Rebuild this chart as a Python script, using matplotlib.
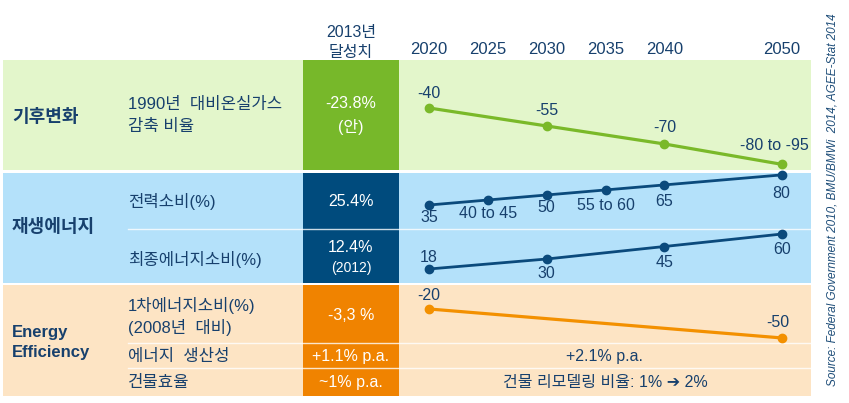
import matplotlib.pyplot as plt
from matplotlib.patches import Rectangle
from matplotlib.transforms import blended_transform_factory

W, H = 849, 403

# chart data
header_years = [2020, 2025, 2030, 2035, 2040, 2050]

ghg_years = [2020, 2030, 2040, 2050]
ghg_vals = [-40, -55, -70, -87]
ghg_labels = ['-40', '-55', '-70', '-80 to -95']

elec_years = [2020, 2025, 2030, 2035, 2040, 2050]
elec_vals = [35, 42.5, 50, 57.5, 65, 80]
elec_labels = ['35', '40 to 45', '50', '55 to 60', '65', '80']

final_years = [2020, 2030, 2040, 2050]
final_vals = [18, 30, 45, 60]
final_labels = ['18', '30', '45', '60']

prim_years = [2020, 2050]
prim_vals = [-20, -50]
prim_labels = ['-20', '-50']

navy = '#17406D'
fams = ['Liberation Sans', 'Noto Sans CJK KR', 'DejaVu Sans']
plt.rcParams['font.family'] = fams

fig = plt.figure(figsize=(W / 100, H / 100), dpi=100)
bg = fig.add_axes([0, 0, 1, 1])
bg.set_xlim(0, W)
bg.set_ylim(H, 0)
bg.axis('off')

# bands and cells
bands = [(60, 170, '#E3F6CB', '#77B82A'),
         (173, 283, '#B4E1FA', '#004B7D'),
         (285, 396, '#FDE4C4', '#F08300')]
for y0, y1, light, dark in bands:
    bg.add_patch(Rectangle((3, y0), 808, y1 - y0, color=light, lw=0))
    bg.add_patch(Rectangle((303, y0), 96, y1 - y0, color=dark, lw=0))
for yl in [229, 343, 368]:
    bg.plot([128, 811], [yl, yl], color='white', lw=1, alpha=0.8)


def txt(x, y, s, size=11, color=navy, ha='left', **kw):
    bg.text(x, y, s, fontsize=size, color=color, ha=ha, va='center', **kw)


# header
txt(351, 33, '2013년', 11.5, ha='center')
txt(351, 52, '달성치', 11.5, ha='center')

# left labels
txt(12, 117, '기후변화', 13, weight='bold')
txt(12, 228, '재생에너지', 13, weight='bold')
txt(12, 333, 'Energy', 12, weight='bold')
txt(12, 353, 'Efficiency', 12, weight='bold')

ks = 12
txt(128, 104, '1990년  대비온실가스', ks)
txt(128, 127, '감축 비율', ks)
txt(128, 202, '전력소비(%)', ks)
txt(128, 259, '최종에너지소비(%)', ks)
txt(128, 305, '1차에너지소비(%)', ks)
txt(128, 328, '(2008년  대비)', ks)
txt(128, 356, '에너지  생산성', ks)
txt(128, 383, '건물효율', ks)

# achieved values
txt(351, 104, '-23.8%', 11.5, 'white', 'center')
txt(351, 127, '(안)', 11.5, 'white', 'center')
txt(351, 202, '25.4%', 11.5, 'white', 'center')
txt(351, 248, '12.4%', 11.5, 'white', 'center')
txt(351, 268, '(2012)', 10, 'white', 'center')
txt(351, 316, '-3,3 %', 11.5, 'white', 'center')
txt(351, 356, '+1.1% p.a.', 11.5, 'white', 'center')
txt(351, 383, '~1% p.a.', 11.5, 'white', 'center')

txt(605, 356, '+2.1% p.a.', 11.5, ha='center')
txt(605, 383, '건물 리모델링 비율: 1% ➔ 2%', 11.5, ha='center')

# source
bg.text(833, 200, 'Source: Federal Government 2010, BMU/BMWi  2014, AGEE-Stat 2014',
        rotation=90, fontsize=8.5, style='italic', color='#1F4E79',
        ha='center', va='center')

XLIM = (2017.45, 2052.46)


def row_axes(y0, y1, ylim):
    ax = fig.add_axes([399 / W, 1 - y1 / H, 412 / W, (y1 - y0) / H])
    ax.set_xlim(*XLIM)
    ax.set_ylim(*ylim)
    ax.patch.set_alpha(0)
    ax.axis('off')
    return ax


def series(ax, xs, ys, labels, offs, color, lw):
    ax.plot(xs, ys, color=color, lw=lw, marker='o', ms=6, clip_on=False)
    for x, y, s, (dx, dy) in zip(xs, ys, labels, offs):
        ax.annotate(s, (x, y), xytext=(dx, dy), textcoords='offset pixels',
                    ha='center', va='center', fontsize=11.5, color=navy)


ax1 = row_axes(60, 170, (-91.7, 0))
series(ax1, ghg_years, ghg_vals, ghg_labels,
       [(0, 14), (0, 15), (0, 16), (-8, 19)], '#7AB929', 2.3)

ax2 = row_axes(173, 229, (-0.8, 82.8))
series(ax2, elec_years, elec_vals, elec_labels,
       [(0, -12), (0, -14), (0, -13), (0, -16), (0, -17), (-1, -19)], '#0B4A7C', 2)

ax3 = row_axes(229, 283, (1.2, 66))
series(ax3, final_years, final_vals, final_labels,
       [(0, 11), (0, -14), (0, -16), (0, -15)], '#0B4A7C', 2)

ax4 = row_axes(285, 343, (-55.2, 4.8))
series(ax4, prim_years, prim_vals, prim_labels,
       [(0, 13), (-4, 15)], '#F39000', 2.3)

# year header placed on the row axes' year scale
tr = blended_transform_factory(ax1.transData, bg.transData)
for yr in header_years:
    bg.text(yr, 50, str(yr), transform=tr, fontsize=12, color=navy,
            ha='center', va='center')

fig.savefig('out.png', dpi=100)
